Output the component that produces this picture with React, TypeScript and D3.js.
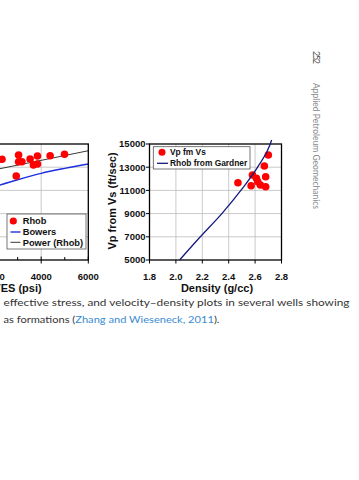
import { useEffect, useRef } from "react"
import * as d3 from "d3"

const W = 359
const H = 480

// left panel: velocity vs VES (cut off by the page edge)
const vesTicks = [0, 2000, 4000, 6000]
const vesMinor = [1000, 3000, 5000]
const rhobVes = [2335, 3040, 3040, 3180, 2940, 3530, 3670, 3840, 3840, 4380, 4990]
const rhobVel = [13680, 14050, 13470, 13470, 12240, 13710, 13190, 13970, 13280, 13990, 14110]
const bowersVes = [2000, 3000, 4000, 5000, 6000]
const bowersVel = [11310, 11920, 12470, 12900, 13280]
const powerVes = [2000, 4000, 6000]
const powerVel = [12770, 13590, 14420]

// right panel: Vp vs density
const densTicks = [1.8, 2.0, 2.2, 2.4, 2.6, 2.8]
const velTicks = [5000, 7000, 9000, 11000, 13000, 15000]
const vpDens = [2.47, 2.57, 2.58, 2.61, 2.62, 2.64, 2.68, 2.67, 2.68, 2.7]
const vpVel = [11660, 11400, 12330, 12040, 11750, 11470, 11320, 13100, 12180, 14050]
const gardDens = [2.028, 2.185, 2.348, 2.492, 2.619, 2.715, 2.725]
const gardVel = [5000, 7000, 9000, 11000, 13000, 15000, 15340]

const AX = "Liberation Sans, Arial, sans-serif"

export default function App() {
  const ref = useRef<SVGSVGElement>(null)

  useEffect(() => {
    const svg = d3.select(ref.current)
    svg.selectAll("*").remove()

    svg.append("rect").attr("width", W).attr("height", H).attr("fill", "#ffffff")

    const y = d3.scaleLinear().domain([5000, 15000]).range([260, 144])

    // ---------- left panel ----------
    const xl = d3.scaleLinear().domain([0, 6000]).range([-53, 88.3])
    const left = svg.append("g")

    svg.append("defs").append("clipPath").attr("id", "left-clip")
      .append("rect").attr("x", xl(0)).attr("y", y(15000))
      .attr("width", xl(6000) - xl(0)).attr("height", y(5000) - y(15000))

    left.selectAll(".gy").data(velTicks.slice(1, -1)).join("line")
      .attr("x1", xl(0)).attr("x2", xl(6000))
      .attr("y1", d => y(d)).attr("y2", d => y(d))
      .attr("stroke", "#bdbdbd").attr("stroke-width", 0.8)
    left.selectAll(".gx").data([2000, 4000]).join("line")
      .attr("x1", d => xl(d)).attr("x2", d => xl(d))
      .attr("y1", y(5000)).attr("y2", y(15000))
      .attr("stroke", "#bdbdbd").attr("stroke-width", 0.8)

    const lineL = (xs: number[], ys: number[]) =>
      d3.line<number>().x(d => xl(xs[d])).y(d => y(ys[d])).curve(d3.curveMonotoneX)(d3.range(xs.length))

    left.append("path").attr("d", lineL(bowersVes, bowersVel))
      .attr("fill", "none").attr("stroke", "#1f2fe0").attr("stroke-width", 1.4)
      .attr("clip-path", "url(#left-clip)")
    left.append("path").attr("d", lineL(powerVes, powerVel))
      .attr("fill", "none").attr("stroke", "#222").attr("stroke-width", 0.9)
      .attr("clip-path", "url(#left-clip)")

    left.selectAll(".dot").data(d3.range(rhobVes.length)).join("circle")
      .attr("cx", i => xl(rhobVes[i])).attr("cy", i => y(rhobVel[i]))
      .attr("r", 3.8).attr("fill", "#ff0000")

    left.append("rect")
      .attr("x", xl(0)).attr("y", y(15000))
      .attr("width", xl(6000) - xl(0)).attr("height", y(5000) - y(15000))
      .attr("fill", "none").attr("stroke", "#000").attr("stroke-width", 1.3)

    left.selectAll(".tk").data(vesTicks).join("line")
      .attr("x1", d => xl(d)).attr("x2", d => xl(d))
      .attr("y1", y(5000) - 3.5).attr("y2", y(5000) + 3.5)
      .attr("stroke", "#000").attr("stroke-width", 1)
    left.selectAll(".mk").data(vesMinor).join("line")
      .attr("x1", d => xl(d)).attr("x2", d => xl(d))
      .attr("y1", y(5000) - 3).attr("y2", y(5000))
      .attr("stroke", "#000").attr("stroke-width", 1)

    left.selectAll(".tl").data(vesTicks).join("text")
      .attr("x", d => xl(d)).attr("y", 279.5)
      .attr("text-anchor", "middle").attr("font-family", AX)
      .attr("font-weight", "bold").attr("font-size", 9.5).attr("fill", "#111")
      .text(d => d)

    left.append("text").attr("x", 17.5).attr("y", 292)
      .attr("text-anchor", "middle").attr("font-family", AX)
      .attr("font-weight", "bold").attr("font-size", 11).attr("fill", "#111")
      .text("VES (psi)")

    // left legend
    const lg = left.append("g")
    lg.append("rect").attr("x", 7).attr("y", 214).attr("width", 79).attr("height", 35)
      .attr("fill", "#fff").attr("stroke", "#555").attr("stroke-width", 0.8)
    lg.append("circle").attr("cx", 13.3).attr("cy", 221).attr("r", 3.6).attr("fill", "#ff0000")
    lg.append("line").attr("x1", 10.5).attr("x2", 20.5).attr("y1", 232).attr("y2", 232)
      .attr("stroke", "#1f2fe0").attr("stroke-width", 1.4)
    lg.append("line").attr("x1", 10.5).attr("x2", 20.5).attr("y1", 242.3).attr("y2", 242.3)
      .attr("stroke", "#222").attr("stroke-width", 0.9)
    lg.selectAll(".lt").data(["Rhob", "Bowers", "Power (Rhob)"]).join("text")
      .attr("x", 22.7).attr("y", (_, i) => [224.4, 235.4, 245.7][i])
      .attr("font-family", AX).attr("font-weight", "bold").attr("font-size", 9.3)
      .attr("fill", "#111").text(d => d)

    // ---------- right panel ----------
    const xr = d3.scaleLinear().domain([1.8, 2.8]).range([149.5, 281.5])
    const right = svg.append("g")

    right.selectAll(".gy").data(velTicks.slice(1, -1)).join("line")
      .attr("x1", xr(1.8)).attr("x2", xr(2.8))
      .attr("y1", d => y(d)).attr("y2", d => y(d))
      .attr("stroke", "#bdbdbd").attr("stroke-width", 0.8)
    right.selectAll(".gx").data(densTicks.slice(1, -1)).join("line")
      .attr("x1", d => xr(d)).attr("x2", d => xr(d))
      .attr("y1", y(5000)).attr("y2", y(15000))
      .attr("stroke", "#bdbdbd").attr("stroke-width", 0.8)

    right.append("rect")
      .attr("x", xr(1.8)).attr("y", y(15000))
      .attr("width", xr(2.8) - xr(1.8)).attr("height", y(5000) - y(15000))
      .attr("fill", "none").attr("stroke", "#000").attr("stroke-width", 1.3)

    right.selectAll(".dot").data(d3.range(vpDens.length)).join("circle")
      .attr("cx", i => xr(vpDens[i])).attr("cy", i => y(vpVel[i]))
      .attr("r", 3.8).attr("fill", "#ff0000")

    right.append("path")
      .attr("d", d3.line<number>().x(i => xr(gardDens[i])).y(i => y(gardVel[i]))
        .curve(d3.curveMonotoneX)(d3.range(gardDens.length)))
      .attr("fill", "none").attr("stroke", "#141a7a").attr("stroke-width", 1.3)

    right.selectAll(".ty").data(velTicks).join("line")
      .attr("x1", xr(1.8) - 3.5).attr("x2", xr(1.8))
      .attr("y1", d => y(d)).attr("y2", d => y(d))
      .attr("stroke", "#000").attr("stroke-width", 1)
    right.selectAll(".tx").data(densTicks).join("line")
      .attr("x1", d => xr(d)).attr("x2", d => xr(d))
      .attr("y1", y(5000)).attr("y2", y(5000) + 3.5)
      .attr("stroke", "#000").attr("stroke-width", 1)

    right.selectAll(".yl").data(velTicks).join("text")
      .attr("x", 145.5).attr("y", d => y(d) + 3.4)
      .attr("text-anchor", "end").attr("font-family", AX)
      .attr("font-weight", "bold").attr("font-size", 9.5).attr("fill", "#111")
      .text(d => d)
    right.selectAll(".xl").data(densTicks).join("text")
      .attr("x", d => xr(d)).attr("y", 279.5)
      .attr("text-anchor", "middle").attr("font-family", AX)
      .attr("font-weight", "bold").attr("font-size", 9.5).attr("fill", "#111")
      .text(d => d.toFixed(1))

    right.append("text").attr("x", 217).attr("y", 291.5)
      .attr("text-anchor", "middle").attr("font-family", AX)
      .attr("font-weight", "bold").attr("font-size", 11).attr("fill", "#111")
      .text("Density (g/cc)")
    right.append("text")
      .attr("transform", "translate(115.5,201) rotate(-90)")
      .attr("text-anchor", "middle").attr("font-family", AX)
      .attr("font-weight", "bold").attr("font-size", 11).attr("fill", "#111")
      .text("Vp from Vs (ft/sec)")

    // right legend
    const rg = right.append("g")
    rg.append("rect").attr("x", 153.3).attr("y", 146.7).attr("width", 96.7).attr("height", 22.3)
      .attr("fill", "#fff").attr("stroke", "#555").attr("stroke-width", 0.8)
    rg.append("circle").attr("cx", 162).attr("cy", 152.3).attr("r", 3.5).attr("fill", "#ff0000")
    rg.append("line").attr("x1", 157).attr("x2", 168).attr("y1", 163.3).attr("y2", 163.3)
      .attr("stroke", "#141a7a").attr("stroke-width", 1.3)
    rg.selectAll(".rt").data(["Vp fm Vs", "Rhob from Gardner"]).join("text")
      .attr("x", 170).attr("y", (_, i) => [155.4, 166.4][i])
      .attr("font-family", AX).attr("font-weight", "bold").attr("font-size", 8.4)
      .attr("fill", "#111").text(d => d)

    // ---------- page text ----------
    const CAP = "Lato, 'Open Sans', sans-serif"
    svg.append("text").attr("x", 3.5).attr("y", 306)
      .attr("font-family", CAP).attr("font-size", 10).attr("fill", "#333")
      .attr("textLength", 346).attr("lengthAdjust", "spacingAndGlyphs")
      .text("effective stress, and velocity\u2013density plots in several wells showing")
    const l2 = svg.append("text").attr("x", 3.5).attr("y", 323)
      .attr("font-family", CAP).attr("font-size", 10).attr("fill", "#333")
      .attr("textLength", 216).attr("lengthAdjust", "spacingAndGlyphs")
    l2.append("tspan").text("as formations (")
    l2.append("tspan").attr("fill", "#3a8bd0").text("Zhang and Wieseneck, 2011")
    l2.append("tspan").text(").")

    svg.append("text")
      .attr("transform", "translate(313,51) rotate(90)")
      .attr("font-family", CAP).attr("font-size", 9).attr("fill", "#555")
      .attr("textLength", 13).text("252")
    svg.append("text")
      .attr("transform", "translate(313,83) rotate(90)")
      .attr("font-family", CAP).attr("font-size", 8.8).attr("fill", "#8a8a8a")
      .attr("textLength", 126).attr("lengthAdjust", "spacingAndGlyphs")
      .text("Applied Petroleum Geomechanics")
  }, [])

  return (
    <svg ref={ref} width={W} height={H}
      style={{ position: "absolute", left: 0, top: 0, display: "block" }} />
  )
}
